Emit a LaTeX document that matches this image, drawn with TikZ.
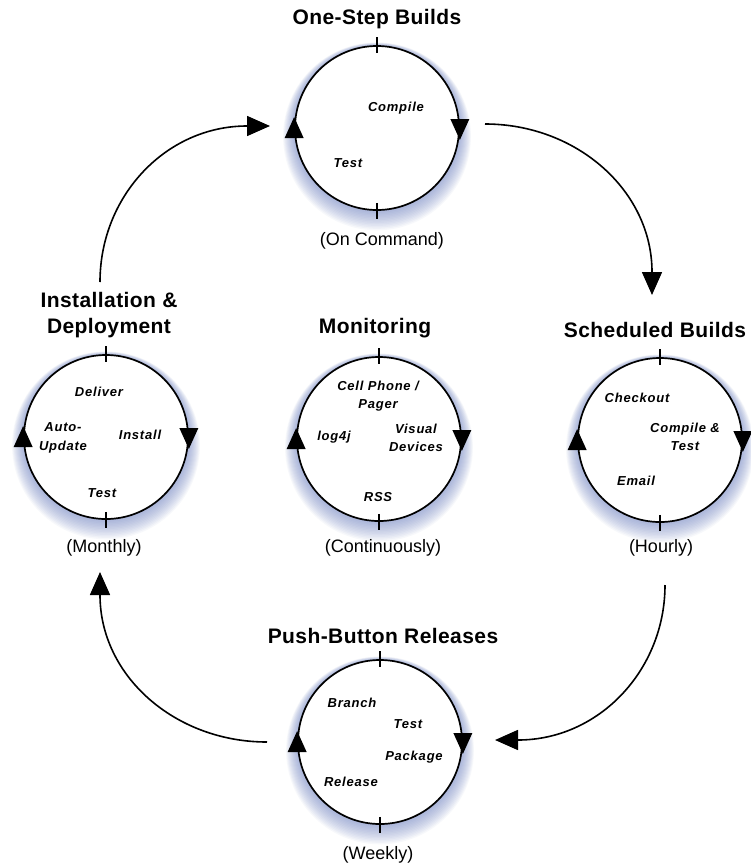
\documentclass[tikz,border=0pt]{standalone}
\usepackage{fontspec}
\setmainfont{Liberation Sans}
\newfontfamily\ttlfont[LetterSpace=2]{Liberation Sans}
\newfontfamily\lblfont[LetterSpace=6]{Liberation Sans}
\usetikzlibrary{arrows.meta}
\definecolor{glowc}{RGB}{110,130,195}
\tikzset{
 ring/.style={circle, draw, line width=1.7pt, fill=white, minimum size=164pt, inner sep=0pt},
 ttl/.style={font=\ttlfont\bfseries\fontsize{21}{26}\selectfont, align=center, inner sep=0pt},
 sub/.style={font=\fontsize{18}{20}\selectfont, inner sep=0pt},
 lbl/.style={font=\lblfont\bfseries\itshape\fontsize{13}{18.5}\selectfont, align=center, inner sep=0pt},
 conn/.style={line width=1.6pt, -{Triangle[length=23pt,width=20pt]}},
 tickmark/.style={line width=1.2pt},
}
\newcommand\glowat[1]{%
 \foreach \i in {1,...,14}{\fill[glowc, opacity=0.055] (#1) ++(0,0.6*\i) circle ({82+0.85*\i});}}
\newcommand\cycmarks[1]{%
 \fill (#1.west) ++(-9.5,10) -- ++(19,0) -- ++(-9.5,-21) -- cycle;
 \fill (#1.east) ++(-9.5,-9) -- ++(19,0) -- ++(-9.5,21) -- cycle;
 \draw[tickmark] (#1.north) ++(0,-8) -- ++(0,16);
 \draw[tickmark] (#1.south) ++(0,-8) -- ++(0,16);}
\begin{document}
\begin{tikzpicture}[x=1pt,y=-1pt]
\useasboundingbox[fill=white] (0,0) rectangle (750,865);
% glows
\coordinate (gtop) at (377,128);
\coordinate (gleft) at (106,437);
\coordinate (gmid) at (379,439);
\coordinate (gright) at (660,440);
\coordinate (gbot) at (380,742);
\glowat{gtop}\glowat{gleft}\glowat{gmid}\glowat{gright}\glowat{gbot}
% rings
\node[ring] (top) at (gtop) {};
\node[ring] (left) at (gleft) {};
\node[ring] (mid) at (gmid) {};
\node[ring] (right) at (gright) {};
\node[ring] (bot) at (gbot) {};
\cycmarks{top}\cycmarks{left}\cycmarks{mid}\cycmarks{right}\cycmarks{bot}
% titles
\node[ttl] (t1) at (377,19) {One-Step Builds};
\node[ttl] (t2) at (109,315) {Installation \&\\Deployment};
\node[ttl] (t3) at (375,328) {Monitoring};
\node[ttl] (t4) at (655,330) {Scheduled Builds};
\node[ttl] (t5) at (383,636) {Push-Button Releases};
% subtitles
\node[sub] (s1) at (382,241) {(On Command)};
\node[sub] (s2) at (104,548) {(Monthly)};
\node[sub] (s3) at (383,548) {(Continuously)};
\node[sub] (s4) at (661,548) {(Hourly)};
\node[sub] (s5) at (378,855) {(Weekly)};
% labels
\node[lbl] (a1) at (396,108) {Compile};
\node[lbl] (a2) at (348,163) {Test};
\node[lbl] (b1) at (99,392) {Deliver};
\node[lbl] (b2) at (63,438) {Auto-\\Update};
\node[lbl] (b3) at (140,435) {Install};
\node[lbl] (b4) at (102,493) {Test};
\node[lbl] (c1) at (378,396) {Cell Phone /\\Pager};
\node[lbl] (c2) at (334,437) {log4j};
\node[lbl] (c3) at (416,438) {Visual\\Devices};
\node[lbl] (c4) at (378,497) {RSS};
\node[lbl] (d1) at (637,398) {Checkout};
\node[lbl] (d2) at (685,437) {Compile \&\\Test};
\node[lbl] (d3) at (636,481) {Email};
\node[lbl] (e1) at (352,703) {Branch};
\node[lbl] (e2) at (408,724) {Test};
\node[lbl] (e3) at (414,757) {Package};
\node[lbl] (e4) at (351,782) {Release};
% connectors
\coordinate (k1s) at (100,282); \coordinate (k1e) at (270,126);
\coordinate (k2s) at (485,124); \coordinate (k2e) at (652,295);
\coordinate (k3s) at (665,585); \coordinate (k3e) at (495,740);
\coordinate (k4s) at (267,742); \coordinate (k4e) at (100,572);
\draw[conn] (k1s) .. controls (100,196) and (166,126) .. (247,126) -- (k1e);
\draw[conn] (k2s) .. controls (577,124) and (652,191) .. (652,272) -- (k2e);
\draw[conn] (k3s) .. controls (665,670) and (599,740) .. (518,740) -- (k3e);
\draw[conn] (k4s) .. controls (175,742) and (100,676) .. (100,595) -- (k4e);
\end{tikzpicture}
\end{document}
